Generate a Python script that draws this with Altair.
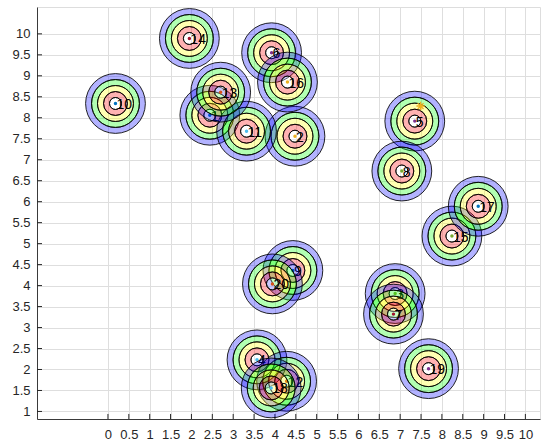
import math
import altair as alt
import pandas as pd

# Point ids and their centres
ids = [1, 2, 3, 4, 5, 6, 7, 8, 9, 10, 11, 12, 13, 14, 15, 16, 17, 18, 19, 20]
xs = [2.44, 4.48, 6.88, 3.57, 7.35, 3.92, 6.84, 7.04, 4.43, 0.18,
      3.32, 4.28, 2.70, 1.95, 8.24, 4.30, 8.87, 3.91, 7.68, 3.94]
ys = [8.06, 7.56, 3.81, 2.23, 7.92, 9.55, 3.32, 6.73, 4.36, 8.34,
      7.68, 1.72, 8.61, 9.89, 5.18, 8.85, 5.89, 1.56, 2.02, 4.04]
dot_colors = ["#0072BD", "#EDB120", "#77AC30", "#4DBEEE", "#7E2F8E",
              "#7E2F8E", "#A2142F", "#77AC30", "#0072BD", "#0072BD",
              "#4DBEEE", "#D95319", "#D95319", "#A2142F", "#77AC30",
              "#EDB120", "#0072BD", "#4DBEEE", "#7E2F8E", "#D95319"]

# Concentric bands (outer radius, inner radius in data units) and fills
ring_outer = [0.716, 0.573, 0.43, 0.286, 0.143]
ring_inner = [0.573, 0.43, 0.286, 0.143, 0.0]
ring_fill = ["#0000ff", "#00ff00", "#ffff00", "#ff0000", "#ffffff"]

# Extra marker
star_x = [7.49]
star_y = [8.28]

# Tick values
x_ticks = [0, 0.5, 1, 1.5, 2, 2.5, 3, 3.5, 4, 4.5, 5, 5.5, 6, 6.5, 7, 7.5,
           8, 8.5, 9, 9.5, 10]
y_ticks = [1, 1.5, 2, 2.5, 3, 3.5, 4, 4.5, 5, 5.5, 6, 6.5, 7, 7.5, 8, 8.5,
           9, 9.5, 10]

X_DOM = [-1.7, 10.35]
Y_DOM = [0.82, 10.64]
W, H = 503, 412
PXU = W / (X_DOM[1] - X_DOM[0])  # pixels per data unit

pts = pd.DataFrame({"id": ids, "x": xs, "y": ys, "dot": dot_colors,
                    "label": [str(i) for i in ids]})
rings = pd.DataFrame([
    {"id": i, "x": x, "y": y, "r_out": ro, "r_in": ri, "fill": f}
    for i, x, y in zip(ids, xs, ys)
    for ro, ri, f in zip(ring_outer, ring_inner, ring_fill)
])

FONT = "Liberation Sans"
TXT = "#262626"

x_enc = alt.X("x:Q", scale=alt.Scale(domain=X_DOM, nice=False, zero=False),
              axis=alt.Axis(values=x_ticks, format="~g", title=None,
                            ticks=False, labelPadding=9, labelOverlap=False,
                            labelFlush=False, labelFontSize=13,
                            labelFont=FONT, labelColor=TXT,
                            domainColor="#3a3a3a", domainWidth=1,
                            gridColor="#dedede", gridWidth=1))
y_enc = alt.Y("y:Q", scale=alt.Scale(domain=Y_DOM, nice=False, zero=False),
              axis=alt.Axis(values=y_ticks, format="~g", title=None,
                            ticks=False, labelPadding=7, labelOverlap=False,
                            labelFlush=False, labelFontSize=13,
                            labelFont=FONT, labelColor=TXT,
                            domainColor="#3a3a3a", domainWidth=1,
                            gridColor="#dedede", gridWidth=1))
r_scale = alt.Scale(type="linear", domain=[0, 1], range=[0, PXU], zero=True)

# Inward tick marks along both axes
xt_df = pd.DataFrame({"x": x_ticks, "y": [Y_DOM[0]] * len(x_ticks),
                      "y2": [Y_DOM[0] + 0.12] * len(x_ticks)})
yt_df = pd.DataFrame({"y": y_ticks, "x": [X_DOM[0]] * len(y_ticks),
                      "x2": [X_DOM[0] + 0.12] * len(y_ticks)})
xticks = alt.Chart(xt_df).mark_rule(color=TXT, strokeWidth=1).encode(
    x=x_enc, y=y_enc, y2="y2:Q")
yticks = alt.Chart(yt_df).mark_rule(color=TXT, strokeWidth=1).encode(
    x=x_enc, x2="x2:Q", y=y_enc)

layers = [xticks, yticks]
for i in ids:
    r_sub = rings[rings["id"] == i]
    p_sub = pts[pts["id"] == i]
    layers.append(
        alt.Chart(r_sub).mark_arc(theta=0, theta2=2 * math.pi,
                                  fillOpacity=0.3, stroke="black",
                                  strokeOpacity=0.85, strokeWidth=1)
        .encode(x=x_enc, y=y_enc,
                radius=alt.Radius("r_out:Q", scale=r_scale),
                radius2="r_in:Q",
                color=alt.Color("fill:N", scale=None))
    )
    layers.append(
        alt.Chart(p_sub).mark_circle(size=12, opacity=1)
        .encode(x=x_enc, y=y_enc, color=alt.Color("dot:N", scale=None))
    )
    layers.append(
        alt.Chart(p_sub).mark_text(align="left", baseline="middle", dx=1,
                                   dy=1.5, fontSize=14, font=FONT,
                                   color="black")
        .encode(x=x_enc, y=y_enc, text="label:N")
    )

star_df = pd.DataFrame({"x": star_x, "y": star_y})
asterisk = "M-1,0L1,0M0,-1L0,1M-0.7,-0.7L0.7,0.7M-0.7,0.7L0.7,-0.7"
layers.append(
    alt.Chart(star_df).mark_point(shape=asterisk, size=70, filled=False,
                                  color="#EDB120", strokeWidth=1.3,
                                  opacity=1)
    .encode(x=x_enc, y=y_enc)
)

chart = alt.layer(*layers).properties(
    width=W, height=H,
    autosize=alt.AutoSizeParams(type="none"),
    padding={"left": 37, "top": 7, "right": 16, "bottom": 25},
).configure_view(stroke=None).configure(background="white")

chart.save("out.html", embed_options={"renderer": "svg", "actions": False})
